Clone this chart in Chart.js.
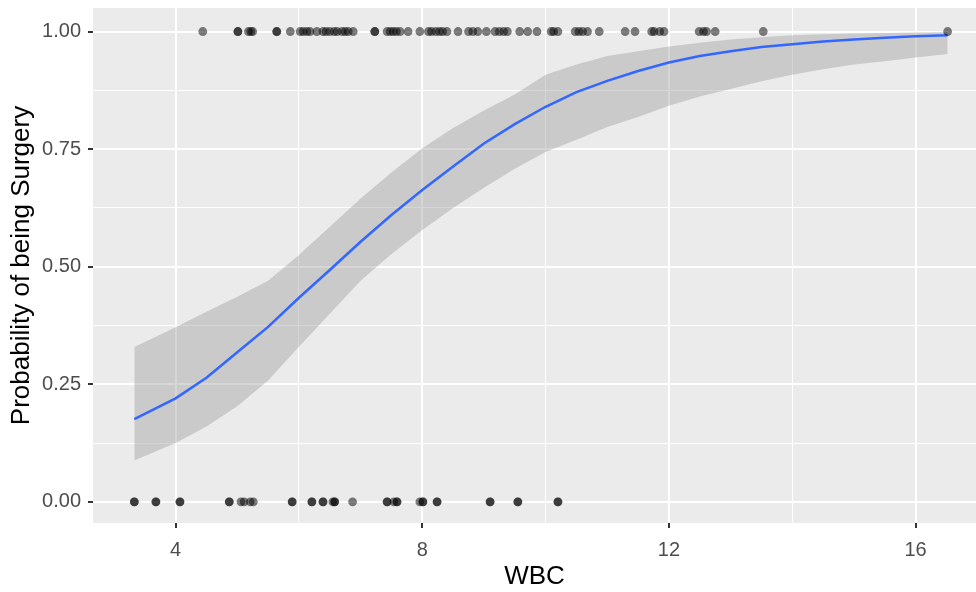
<!DOCTYPE html>
<html>
<head>
<meta charset="utf-8">
<script src="https://cdn.jsdelivr.net/npm/chart.js@4.4.1/dist/chart.umd.min.js"></script>
<style>
  body { margin: 0; background: #fff; }
</style>
</head>
<body>
<canvas id="surgery-chart" width="976" height="592"></canvas>
<script>
// observed WBC values, split by outcome
const wbcSurgery = [
  4.44, 5.01, 5.01, 5.18, 5.22, 5.25, 5.64, 5.64, 5.86,
  6.02, 6.07, 6.13, 6.18, 6.29, 6.39, 6.44, 6.50, 6.57, 6.62, 6.70, 6.75, 6.80, 6.88,
  7.23, 7.23, 7.43, 7.48, 7.53, 7.58, 7.64, 7.77, 7.96,
  8.10, 8.15, 8.22, 8.28, 8.33, 8.40, 8.58, 8.75, 8.82, 8.90,
  9.04, 9.18, 9.25, 9.32, 9.38, 9.58, 9.71, 9.86,
  10.09, 10.13, 10.20, 10.48, 10.54, 10.60, 10.68, 10.87,
  11.29, 11.45, 11.72, 11.76, 11.85, 11.92,
  12.49, 12.56, 12.61, 12.75, 13.53, 16.52
];
const wbcNoSurgery = [
  3.33, 3.33, 3.68, 3.68, 4.07, 4.07, 4.87, 4.87, 5.06, 5.11, 5.21, 5.26,
  5.89, 5.89, 6.21, 6.21, 6.39, 6.39, 6.55, 6.58, 6.58, 6.87,
  7.43, 7.43, 7.54, 7.59, 7.59, 7.96, 8.01, 8.01, 8.24, 8.24,
  9.10, 9.10, 9.55, 9.55, 10.20, 10.20
];

// fitted logistic curve with its confidence band
const wbcGrid = [3.33, 4.0, 4.5, 5.0, 5.5, 6.0, 6.5, 7.0, 7.5, 8.0, 8.5, 9.0, 9.5, 10.0,
  10.5, 11.0, 11.5, 12.0, 12.5, 13.0, 13.5, 14.0, 14.5, 15.0, 15.5, 16.0, 16.52];
const fitProb = [0.176, 0.220, 0.264, 0.318, 0.372, 0.434, 0.493, 0.553, 0.610, 0.663, 0.713,
  0.762, 0.803, 0.840, 0.871, 0.895, 0.916, 0.934, 0.948, 0.958, 0.967, 0.973, 0.979,
  0.983, 0.987, 0.990, 0.992];
const fitLower = [0.088, 0.125, 0.160, 0.203, 0.258, 0.330, 0.400, 0.470, 0.527, 0.578, 0.625,
  0.668, 0.708, 0.744, 0.770, 0.797, 0.818, 0.842, 0.862, 0.878, 0.894, 0.908, 0.920,
  0.930, 0.937, 0.945, 0.952];
const fitUpper = [0.329, 0.371, 0.404, 0.436, 0.470, 0.525, 0.585, 0.645, 0.700, 0.752, 0.795,
  0.832, 0.866, 0.908, 0.930, 0.948, 0.958, 0.968, 0.976, 0.983, 0.988, 0.992, 0.994,
  0.996, 0.997, 0.998, 0.999];

const xTicks = [4, 6, 8, 10, 12, 14, 16];
const yTicks = [0, 0.125, 0.25, 0.375, 0.5, 0.625, 0.75, 0.875, 1];

const FONT = "'Liberation Sans', Arial, sans-serif";
const isMajorX = v => v % 4 === 0;
const isMajorY = v => Math.abs(v * 4 - Math.round(v * 4)) < 1e-9;

const toPoints = (xs, ys) => xs.map((x, i) => ({ x: x, y: ys[i] }));

// grey panel behind the grid
const panelBg = {
  id: 'panelBg',
  beforeDraw(chart) {
    const { ctx, chartArea: { left, top, width, height } } = chart;
    ctx.save();
    ctx.fillStyle = '#EBEBEB';
    ctx.fillRect(left, top, width, height);
    ctx.restore();
  }
};

const gridFor = isMajor => ({
  color: '#FFFFFF',
  lineWidth: c => (c.tick && isMajor(c.tick.value) ? 2 : 1),
  drawTicks: true,
  tickLength: 5,
  tickColor: c => (c.tick && isMajor(c.tick.value) ? '#333333' : 'rgba(0,0,0,0)'),
  tickWidth: c => (c.tick && isMajor(c.tick.value) ? 2 : 1)
});

document.addEventListener("DOMContentLoaded", () => {
  const canvas = document.getElementById("surgery-chart");

  new Chart(canvas, {
    type: 'line',
    data: {
      datasets: [
        {
          type: 'scatter',
          data: [
            ...wbcSurgery.map(x => ({ x: x, y: 1 })),
            ...wbcNoSurgery.map(x => ({ x: x, y: 0 }))
          ],
          backgroundColor: 'rgba(0,0,0,0.5)',
          borderWidth: 0,
          pointRadius: 4.4
        },
        {
          data: toPoints(wbcGrid, fitProb),
          borderColor: '#3366FF',
          borderWidth: 2.5,
          pointRadius: 0,
          tension: 0,
          fill: false
        },
        {
          data: toPoints(wbcGrid, fitUpper),
          borderWidth: 0,
          borderColor: 'rgba(0,0,0,0)',
          backgroundColor: 'rgba(153,153,153,0.4)',
          pointRadius: 0,
          tension: 0,
          fill: '+1'
        },
        {
          data: toPoints(wbcGrid, fitLower),
          borderWidth: 0,
          borderColor: 'rgba(0,0,0,0)',
          pointRadius: 0,
          tension: 0,
          fill: false
        }
      ]
    },
    options: {
      responsive: false,
      animation: false,
      events: [],
      layout: {
        autoPadding: false,
        padding: { top: 8, right: 0, left: 0, bottom: 0 }
      },
      plugins: {
        legend: { display: false },
        tooltip: { enabled: false }
      },
      scales: {
        x: {
          type: 'linear',
          min: 2.66,
          max: 16.98,
          border: { display: false },
          grid: gridFor(isMajorX),
          afterBuildTicks: s => { s.ticks = xTicks.map(v => ({ value: v })); },
          afterFit: s => {
            s.height = 69;
            s.paddingLeft = 0;
            s.paddingRight = 0;
          },
          ticks: {
            autoSkip: false,
            maxRotation: 0,
            padding: 10,
            color: '#4D4D4D',
            font: { family: FONT, size: 20 },
            callback: v => (isMajorX(v) ? String(v) : '')
          },
          title: {
            display: true,
            text: 'WBC',
            color: '#000000',
            padding: { top: 0, bottom: 0 },
            font: { family: FONT, size: 26 }
          }
        },
        y: {
          type: 'linear',
          min: -0.045,
          max: 1.05,
          border: { display: false },
          grid: gridFor(isMajorY),
          afterBuildTicks: s => { s.ticks = yTicks.map(v => ({ value: v })); },
          afterFit: s => {
            s.width = 93;
            s.paddingTop = 0;
            s.paddingBottom = 0;
          },
          ticks: {
            autoSkip: false,
            padding: 7,
            color: '#4D4D4D',
            font: { family: FONT, size: 20 },
            callback: v => (isMajorY(v) ? v.toFixed(2) : '')
          },
          title: {
            display: true,
            text: 'Probability of being Surgery',
            color: '#000000',
            padding: { top: 6.5, bottom: 0 },
            font: { family: FONT, size: 26 }
          }
        }
      }
    },
    plugins: [panelBg]
  });
});
</script>
</body>
</html>
